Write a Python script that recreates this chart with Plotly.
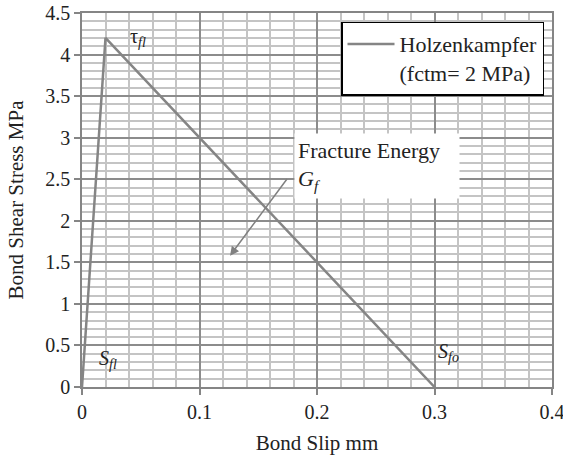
import plotly.graph_objects as go

slip_mm = [0.0, 0.02, 0.3]
stress_mpa = [0.0, 4.2, 0.0]
series_name = "Holzenkampfer<br>(fctm= 2 MPa)"
x_ticks = [0, 0.1, 0.2, 0.3, 0.4]
x_tick_text = ["0", "0.1", "0.2", "0.3", "0.4"]
y_ticks = [0, 0.5, 1, 1.5, 2, 2.5, 3, 3.5, 4, 4.5]
y_tick_text = ["0", "0.5", "1", "1.5", "2", "2.5", "3", "3.5", "4", "4.5"]

FONT = "Liberation Serif"
FS = 20
fig = go.Figure()
fig.add_trace(go.Scatter(x=slip_mm, y=stress_mpa, mode="lines", name=series_name,
                         line=dict(color="#858585", width=2.5), showlegend=True))

axis_common = dict(showline=True, linecolor="#858585", linewidth=1.5, mirror=True,
                   ticks="outside", ticklen=6, tickcolor="#858585", tickwidth=1.5,
                   gridcolor="#8c8c8c", gridwidth=1.5, zeroline=False, automargin=False,
                   ticklabeloverflow="allow",
                   tickfont=dict(family=FONT, size=FS, color="#222"))
fig.update_layout(
    width=563, height=456,
    margin=dict(l=82, r=11, t=13, b=69),
    paper_bgcolor="white", plot_bgcolor="white",
    font=dict(family=FONT, size=FS, color="#222"),
    xaxis=dict(range=[0, 0.4], tickvals=x_ticks, ticktext=x_tick_text,
               title=dict(text="Bond Slip mm", standoff=14, font=dict(family=FONT, size=21)),
               minor=dict(dtick=0.02, showgrid=True, gridcolor="#c4c4c4", gridwidth=1.5, ticks=""),
               **axis_common),
    yaxis=dict(range=[0, 4.5], tickvals=y_ticks, ticktext=y_tick_text,
               title=dict(text="Bond Shear Stress MPa", standoff=16, font=dict(family=FONT, size=21)),
               minor=dict(dtick=0.1, showgrid=True, gridcolor="#c4c4c4", gridwidth=1.5, ticks=""),
               **axis_common),
    legend=dict(x=0.983, xanchor="right", y=0.977, yanchor="top", valign="top",
                bgcolor="white", bordercolor="black", borderwidth=1.5,
                font=dict(family=FONT, size=22, color="#222"), itemwidth=47),
    showlegend=True,
)

fig.add_annotation(x=0.126, y=1.58, ax=0.1754, ay=2.52, axref="x", ayref="y",
                   xref="x", yref="y", text="", showarrow=True, arrowhead=2,
                   arrowsize=1.2, arrowwidth=1.5, arrowcolor="#808080")
fig.add_annotation(x=0.1805, y=2.66, xref="x", yref="y", xanchor="left", yanchor="middle",
                   text="Fracture Energy<br><i>G<sub>f</sub></i>", showarrow=False,
                   align="left", valign="middle", bgcolor="white", borderpad=3,
                   width=158, height=58,
                   font=dict(family=FONT, size=22, color="#222"))
fig.add_annotation(x=0.048, y=4.2, xref="x", yref="y", text="τ<sub><i>fl</i></sub>",
                   showarrow=False, font=dict(family=FONT, size=FS, color="#222"))
fig.add_annotation(x=0.0224, y=0.33, xref="x", yref="y", text="<i>S<sub>fl</sub></i>",
                   showarrow=False, font=dict(family=FONT, size=FS, color="#222"))
fig.add_annotation(x=0.3115, y=0.42, xref="x", yref="y", text="<i>S<sub>fo</sub></i>",
                   showarrow=False, font=dict(family=FONT, size=FS, color="#222"))

# remove the default 8px page margin so the figure fills the window exactly
fig.write_html("out.html", config={"displayModeBar": False},
               post_script="document.body.style.margin='0';")
